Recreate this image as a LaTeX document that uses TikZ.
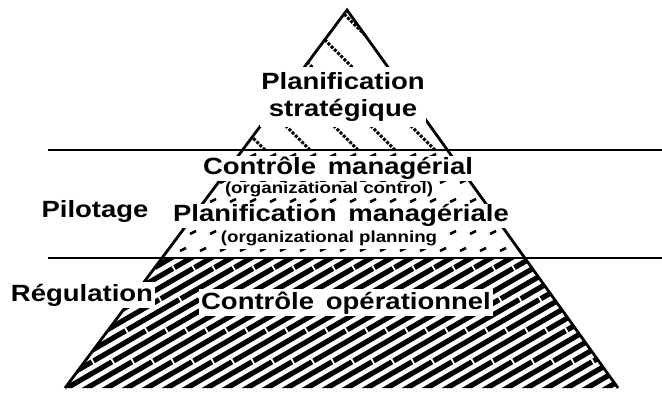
\documentclass[tikz,border=0pt]{standalone}
\usepackage{fontspec}
\setsansfont{Liberation Sans}[FakeStretch=1.17]
\usetikzlibrary{calc}
\newcommand\motsespaces{\spaceskip=0.5em\relax}
\tikzset{
    niveau/.style={font=\sffamily\bfseries\fontsize{23.5}{27}\selectfont\motsespaces,
                   fill=white, inner sep=1pt, anchor=base},
    sousniveau/.style={font=\sffamily\bfseries\fontsize{16}{18}\selectfont,
                   fill=white, inner xsep=1pt, inner ysep=2.5pt, anchor=base},
    hachure/.style={line width=3pt, dash pattern=on 3pt off 1.5pt},
    marque/.style={line width=2.6pt},
    rayure/.style={line width=5.2pt, dash pattern=on 60pt off 2pt},
    arete/.style={line width=2.8pt},
    separation/.style={line width=1.2pt},
  }
\begin{document}
\begin{tikzpicture}[x=1pt,y=-1pt]
  \useasboundingbox (0,0) rectangle (662,393);
  %sommet et base de la pyramide
  \coordinate (S) at (347,10);
  \coordinate (BG) at (65,388);
  \coordinate (BD) at (618,388);
  %niveaux y=150 et y=258
  \coordinate (G1) at ($(S)!0.3704!(BG)$);
  \coordinate (D1) at ($(S)!0.3704!(BD)$);
  \coordinate (G2) at ($(S)!0.6561!(BG)$);
  \coordinate (D2) at ($(S)!0.6561!(BD)$);

  \begin{scope}
    \clip (S) -- (G1) -- (D1) -- cycle;
    \foreach \x in {265,310,358,395,435,480}
      \draw[hachure] (\x,150) -- ++(-160,-160);
  \end{scope}
  \begin{scope}
    \clip (G1) -- (D1) -- (D2) -- (G2) -- cycle;
    \foreach \y [count=\i] in {157,183,202,217,234,251}
      \foreach \x in {140,160,...,560}
        \draw[marque] ({\x+10*mod(\i,2)},\y) -- ++(6,-3);
  \end{scope}
  \begin{scope}
    \clip (G2) -- (D2) -- (BD) -- (BG) -- cycle;
    \foreach \x in {-300,-280,...,640}
      \draw[rayure] (\x,392) -- ++(300,-174);
  \end{scope}

  \draw[arete] (BG) -- (S) -- (BD);
  \coordinate (L1) at (48,150);
  \coordinate (L2) at (48,258);
  \draw[separation] (L1) -- (662,150);
  \draw[separation] (L2) -- (662,258);

  \node[niveau, anchor=center, align=center, inner ysep=5pt] (strat) at (343,97) {Planification\\strat\'egique};
  \node[niveau] (ctrlman) at (338,175) {Contr\^ole manag\'erial};
  \node[sousniveau, inner ysep=0.5pt] (orgctrl) at (329,194) {(organizational control)};
  \node[niveau] (pilot) at (95,218) {Pilotage};
  \node[niveau] (planman) at (341,222) {Planification manag\'eriale};
  \node[sousniveau] (orgplan) at (329,243) {(organizational planning};
  \node[niveau, inner sep=2pt] (regul) at (82,301) {R\'egulation};
  \node[niveau, inner sep=2.5pt] (ctrlop) at (346,309) {Contr\^ole op\'erationnel};
\end{tikzpicture}
\end{document}
